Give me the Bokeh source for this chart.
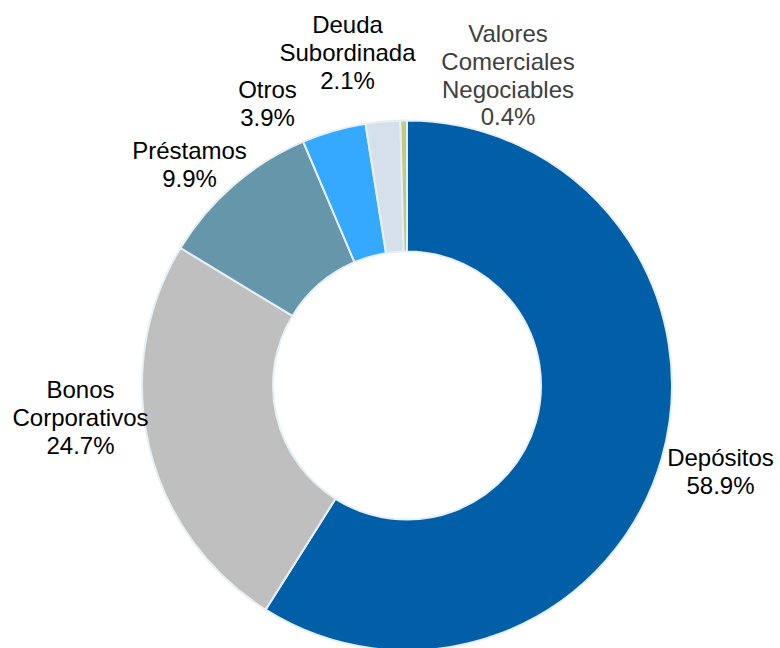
import numpy as np
from bokeh.plotting import figure
from bokeh.models import Range1d, ColumnDataSource
from bokeh.core.properties import value
from bokeh.embed import file_html
from bokeh.resources import INLINE

# ---- data ----
categories = ["Depósitos", "Bonos\nCorporativos", "Préstamos", "Otros",
              "Deuda\nSubordinada", "Valores\nComerciales\nNegociables"]
shares = [58.9, 24.7, 9.9, 3.9, 2.1, 0.4]
colors = ["#005FA7", "#BFBFBF", "#6696AA", "#35A9FF", "#D6E0EB", "#C1C982"]
label_colors = ["#000000", "#000000", "#000000", "#000000", "#000000", "#404040"]

# ---- layout (pixel units, origin at donut centre) ----
R_OUT, R_IN = 265, 134
# label anchor: centre x, baseline of first line (relative to centre)
label_anchor = [(313.5, -72), (-326.5, -4), (-217.5, 235), (-139.5, 296),
                (-59.5, 361), (101, 352)]
LINE_H = 27.8

vals = np.array(shares, dtype=float)
frac = np.cumsum(vals) / vals.sum()
before = np.concatenate([[0.0], frac[:-1]])
start = np.pi / 2 - 2 * np.pi * before
end = np.pi / 2 - 2 * np.pi * frac

src = ColumnDataSource(dict(start=start, end=end, color=colors))

p = figure(width=780, height=648, output_backend="svg", toolbar_location=None,
           x_range=Range1d(-406.5, 373.5), y_range=Range1d(-263, 385),
           min_border=0)
p.axis.visible = False
p.grid.visible = False
p.outline_line_color = None
p.background_fill_color = "white"

p.annular_wedge(x=0, y=0, inner_radius=R_IN, outer_radius=R_OUT,
                start_angle="start", end_angle="end", direction="clock",
                fill_color="color", line_color="#E8F0F6", line_width=2,
                source=src)

tx, ty, tt, tc = [], [], [], []
for cat, v, (ax, ay), col in zip(categories, shares, label_anchor, label_colors):
    lines = cat.split("\n") + [f"{v:.1f}%"]
    for i, ln in enumerate(lines):
        tx.append(ax)
        ty.append(ay - i * LINE_H)
        tt.append(ln)
        tc.append(col)

p.text(x=tx, y=ty, text=tt, text_color=tc, text_align="center",
       text_baseline="alphabetic", text_font=value("Liberation Sans"),
       text_font_size="24px")

open("out.html", "w").write(file_html(p, INLINE))
